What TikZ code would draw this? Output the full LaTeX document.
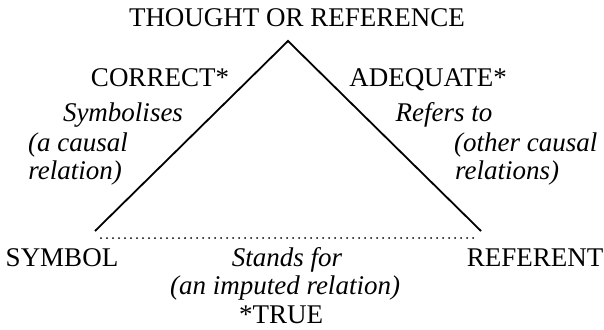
\documentclass[tikz,border=0pt]{standalone}
\usepackage{fontspec}
\setmainfont{Liberation Serif}
\usetikzlibrary{positioning}

\begin{document}
\begin{tikzpicture}[
  x=1pt, y=-1pt,
  label/.style={anchor=base, inner sep=0pt, font=\fontsize{27}{32}\selectfont},
  relation/.style={label, font=\fontsize{27}{32}\selectfont\itshape},
  side/.style={line width=1.8pt},
  imputed/.style={line width=2pt, line cap=round, dash pattern=on 0pt off 6pt}
]
\useasboundingbox (0,0) rectangle (604,329);
% corners of the triangle
\coordinate (apex) at (288,41);
\coordinate (symbolend) at (95,231);
\coordinate (referentend) at (481,231);
\coordinate (dotleft) at (101,238);
\coordinate (dotright) at (478,238);
\draw[side] (symbolend) -- (apex) -- (referentend);
\draw[imputed] (dotleft) -- (dotright);
% vertex names
\node[label] (thought) at (297,27) {THOUGHT OR REFERENCE};
\node[label] (symbol) at (62,266) {SYMBOL};
\node[label] (referent) at (535,266) {REFERENT};
% left side
\node[label] (correct) at (160,86) {CORRECT*};
\node[relation] (symbolises) at (123,121) {Symbolises};
\node[relation, anchor=base east] (causal) at (128,151) {(a causal};
\node[relation, anchor=base east] (causalrel) at (122,179) {relation)};
% right side
\node[label] (adequate) at (428,86) {ADEQUATE*};
\node[relation] (refers) at (444,121) {Refers to};
\node[relation, anchor=base west] (othercausal) at (454,151) {(other causal};
\node[relation, anchor=base west] (otherrel) at (455,179) {relations)};
% base
\node[relation] (stands) at (287,266) {Stands for};
\node[relation] (imputedrel) at (285,294) {(an imputed relation)};
\node[label] (true) at (281,323) {*TRUE};
\end{tikzpicture}
\end{document}
